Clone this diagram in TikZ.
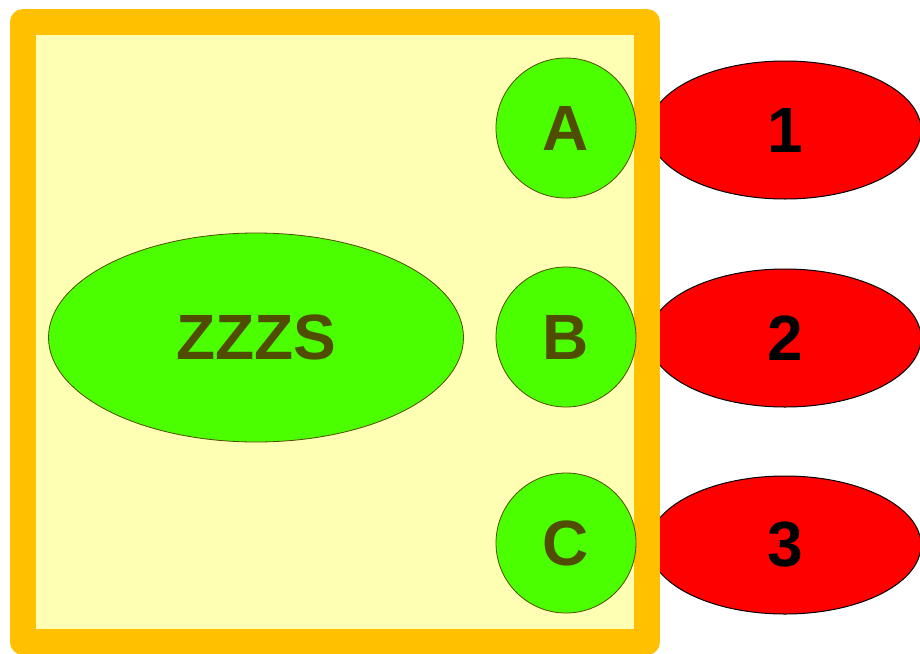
\documentclass[tikz,border=0pt]{standalone}
\usepackage{fontspec}
\setmainfont{Liberation Sans}
\usetikzlibrary{shapes.geometric}
\definecolor{boxorange}{RGB}{255,192,0}
\definecolor{boxfill}{RGB}{255,255,180}
\definecolor{brightgreen}{RGB}{76,255,0}
\definecolor{olivetext}{RGB}{80,76,0}
\definecolor{redfill}{RGB}{255,0,0}
\tikzset{
  port/.style={circle, draw=olivetext, line width=0.8pt, fill=brightgreen, minimum size=140pt, inner sep=0pt,
    text=olivetext, font=\fontsize{64}{64}\selectfont\bfseries},
  mainell/.style={ellipse, draw=olivetext, line width=0.8pt, fill=brightgreen, minimum width=415pt, minimum height=209pt, inner sep=0pt,
    text=olivetext, font=\fontsize{64}{64}\selectfont\bfseries},
  outell/.style={ellipse, draw=black, line width=1pt, fill=redfill, minimum width=272pt, minimum height=138pt, inner sep=0pt,
    text=black, font=\fontsize{64}{64}\selectfont\bfseries},
  frame/.style={draw=boxorange, fill=boxfill, line width=26pt, line join=round}
}
\begin{document}
\begin{tikzpicture}[x=1pt,y=-1pt]
\useasboundingbox (0,0) rectangle (920,653);
\clip (0,0) rectangle (920,653);
\node[outell] (n1) at (785,130) {1};
\node[outell] (n2) at (785,338) {2};
\node[outell] (n3) at (785,545) {3};
\path[frame] (23,22) rectangle (647,642);
\node[mainell] (z) at (256,337.5) {ZZZS};
\node[port] (a) at (566,128) {A};
\node[port] (b) at (566,337) {B};
\node[port] (c) at (566,543) {C};
\end{tikzpicture}
\end{document}
